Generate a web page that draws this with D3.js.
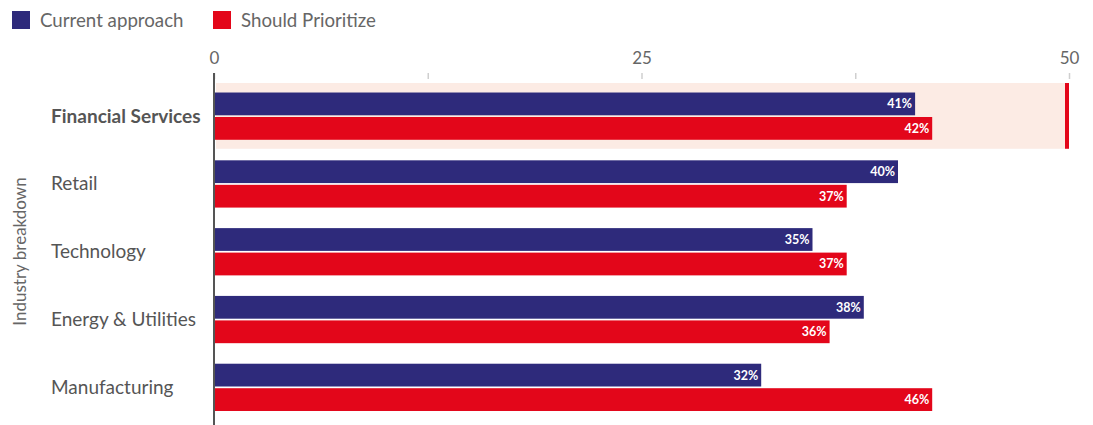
<!DOCTYPE html>
<html>
<head>
<meta charset="utf-8">
<script src="https://cdn.jsdelivr.net/npm/d3@7"></script>
<style>
  html, body { margin: 0; padding: 0; background: #fff; }
  svg { display: block; font-family: Lato, "Open Sans", sans-serif; }
</style>
</head>
<body>
<svg id="chart" width="1093" height="425"></svg>
<script>
// ---- data ----
const categories = ["Financial Services", "Retail", "Technology", "Energy & Utilities", "Manufacturing"];
const seriesNames = ["Current approach", "Should Prioritize"];
const currentValues = [41, 40, 35, 38, 32];
const prioritizeValues = [42, 37, 37, 36, 42];
const currentLabels = ["41%", "40%", "35%", "38%", "32%"];
const prioritizeLabels = ["42%", "37%", "37%", "36%", "46%"];
const tickValues = [0, 12.5, 25, 37.5, 50];
const tickLabels = ["0", "", "25", "", "50"];
const highlighted = "Financial Services";

const colors = ["#2e2a7b", "#e3061a"];

const svg = d3.select("#chart");

const x = d3.scaleLinear().domain([0, 50]).range([214, 1069]);
const y = d3.scaleBand().domain(categories).range([82, 421]).paddingInner(0.03).paddingOuter(0.015);
const bw = y.bandwidth();
const ySub = d3.scaleBand().domain(seriesNames).range([9.5, bw - 9]).paddingInner(0.07);

// highlight background
const hy = y(highlighted);
svg.append("rect").attr("x", x(0) + 2).attr("y", hy).attr("width", x(50) - 4 - x(0) - 2).attr("height", bw).attr("fill", "#fcebe4");
svg.append("rect").attr("x", x(50) - 4).attr("y", hy).attr("width", 4).attr("height", bw).attr("fill", "#e3061a");

// top axis
const axis = d3.axisTop(x).tickValues(tickValues).tickSize(6).tickFormat((d, i) => tickLabels[i]);
const gAxis = svg.append("g").attr("transform", "translate(0,79)").call(axis);
gAxis.select(".domain").remove();
gAxis.selectAll(".tick line").attr("stroke", "#cfcfcf").attr("stroke-width", 1.5);
gAxis.selectAll(".tick text").attr("fill", "#666").attr("font-size", 17).attr("font-family", "Lato, sans-serif").attr("y", -15);

// bars
const rows = categories.map((c, i) => ({
  cat: c,
  vals: [
    { s: seriesNames[0], v: currentValues[i], l: currentLabels[i] },
    { s: seriesNames[1], v: prioritizeValues[i], l: prioritizeLabels[i] }
  ]
}));

const groups = svg.append("g").selectAll("g").data(rows).join("g")
  .attr("transform", d => `translate(0,${y(d.cat)})`);

groups.selectAll("rect").data(d => d.vals).join("rect")
  .attr("x", x(0))
  .attr("y", d => ySub(d.s))
  .attr("width", d => x(d.v) - x(0))
  .attr("height", ySub.bandwidth())
  .attr("fill", (d, i) => colors[i]);

groups.selectAll("text").data(d => d.vals).join("text")
  .attr("x", d => x(d.v) - 3)
  .attr("y", d => ySub(d.s) + ySub.bandwidth() / 2)
  .attr("dy", "0.36em")
  .attr("text-anchor", "end")
  .attr("fill", "#fff")
  .attr("font-size", 12.5)
  .attr("font-weight", "bold")
  .text(d => d.l);

// category labels
svg.append("g").selectAll("text").data(categories).join("text")
  .attr("x", 51)
  .attr("y", d => y(d) + bw / 2)
  .attr("dy", "0.35em")
  .attr("fill", "#555")
  .attr("font-size", 19)
  .attr("font-weight", d => d === highlighted ? "bold" : "normal")
  .text(d => d);

// vertical axis line
svg.append("line").attr("x1", x(0)).attr("x2", x(0)).attr("y1", 73).attr("y2", 425)
  .attr("stroke", "#555").attr("stroke-width", 2);

// y axis title
svg.append("text")
  .attr("transform", `translate(26,${(82 + 421) / 2}) rotate(-90)`)
  .attr("text-anchor", "middle")
  .attr("fill", "#666")
  .attr("font-size", 17)
  .text("Industry breakdown");

// legend
const legend = svg.append("g");
const legendX = [12, 213];
seriesNames.forEach((s, i) => {
  legend.append("rect").attr("x", legendX[i]).attr("y", 11).attr("width", 18).attr("height", 18).attr("fill", colors[i]);
  legend.append("text").attr("x", legendX[i] + 28).attr("y", 20).attr("dy", "0.35em")
    .attr("fill", "#666").attr("font-size", 18.7).text(s);
});
</script>
</body>
</html>
